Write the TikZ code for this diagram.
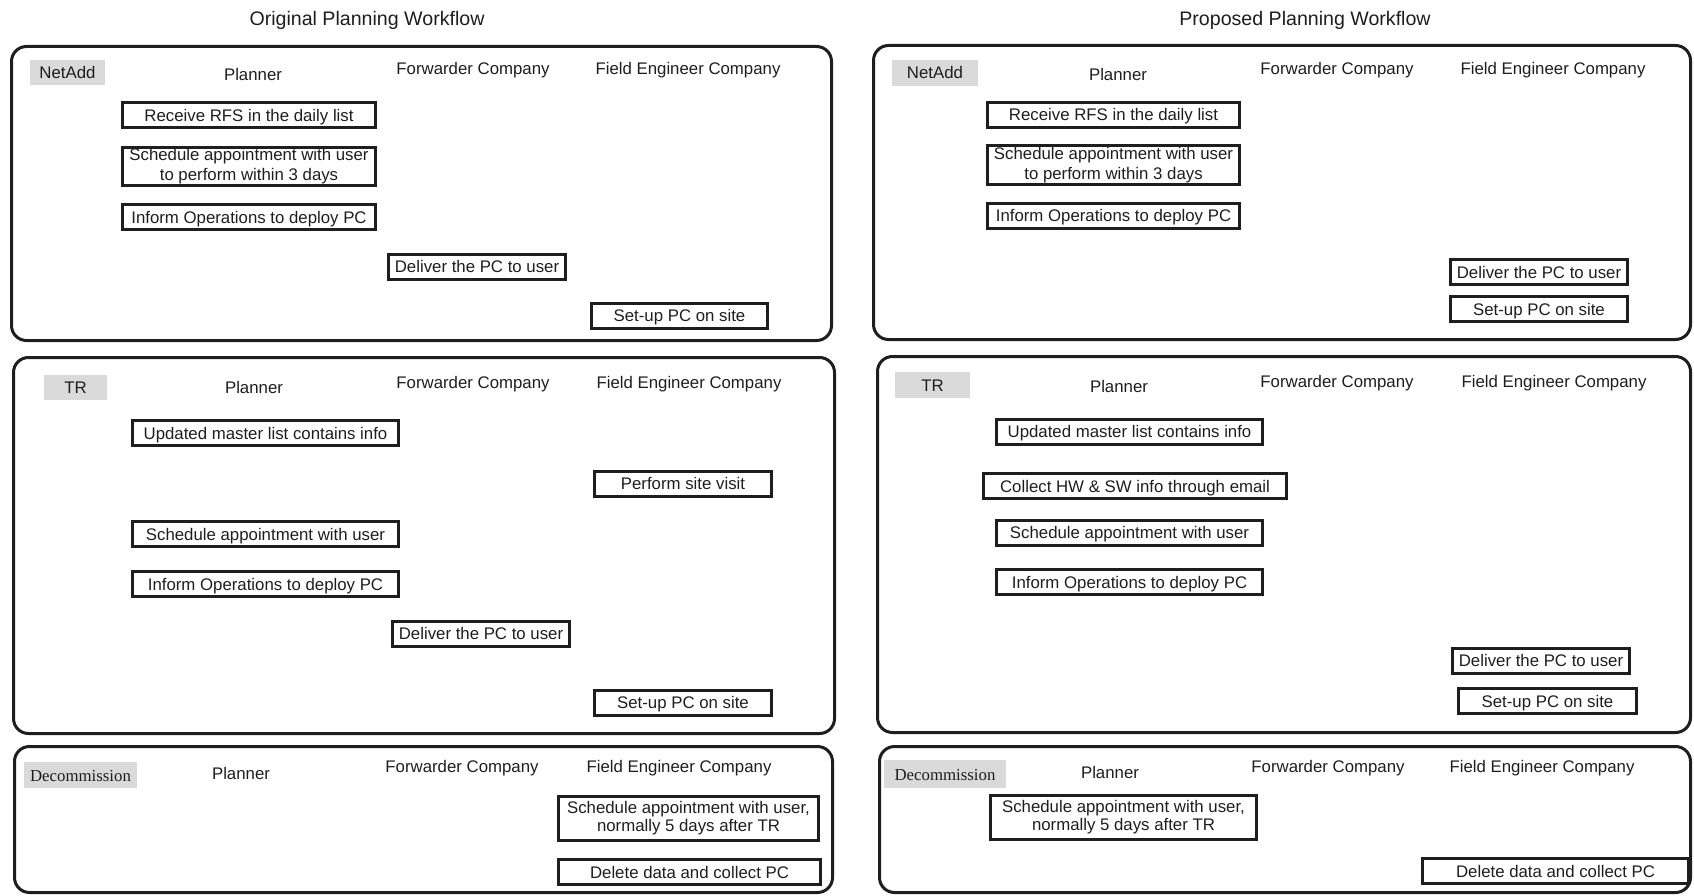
\documentclass[tikz,border=0pt]{standalone}
\usepackage{fontspec}
\setmainfont{Liberation Sans}
\newfontfamily\serifface{Liberation Serif}
\definecolor{ink}{HTML}{1E1E1E}
\definecolor{tagfill}{HTML}{DADADA}
\begin{document}
\begin{tikzpicture}[x=1pt,y=-1pt,
  every node/.style={font=\fontsize{16.8}{20}\selectfont, text=ink},
  panel/.style={draw=ink, line width=3pt, rounded corners=15pt, inner sep=0pt},
  stepbox/.style={draw=ink, line width=3pt, inner sep=0pt, minimum height=25pt,
                  text height=12pt, text depth=0pt},
  stepboxtwo/.style={draw=ink, line width=3pt, inner sep=0pt, align=center},
  lane/.style={inner sep=0pt, text height=12pt, text depth=0pt},
  tag/.style={fill=tagfill, inner sep=0pt, text height=12pt, text depth=0pt},
  title/.style={inner sep=0pt, font=\fontsize{19.6}{23}\selectfont}]
\useasboundingbox (0,0) rectangle (1694,896);

% ---------- titles ----------
\node[title] (ttlO) at (367,20) {Original Planning Workflow};
\node[title] (ttlP) at (1305,20) {Proposed Planning Workflow};

% ---------- frames ----------
\node[panel, minimum width=820, minimum height=294] (oA) at (421.5,193.5) {};
\node[panel, minimum width=821, minimum height=376] (oB) at (424,545.5) {};
\node[panel, minimum width=818, minimum height=146] (oC) at (423.5,819.5) {};
\node[panel, minimum width=817, minimum height=294] (pA) at (1282,192.5) {};
\node[panel, minimum width=813, minimum height=376] (pB) at (1284,544.5) {};
\node[panel, minimum width=811, minimum height=146] (pC) at (1285,819.5) {};

% ---------- original: NetAdd ----------
\node[tag, minimum width=75, minimum height=25] (oAtag) at (67.5,72.5) {NetAdd};
\node[lane] (oAplan) at (253,75) {Planner};
\node[lane] (oAfwd) at (473,69) {Forwarder Company};
\node[lane] (oAfe) at (688,69) {Field Engineer Company};
\node[stepbox, minimum width=253] (oA1) at (249,115.5) {Receive RFS in the daily list};
\node[stepboxtwo, minimum width=253, minimum height=38] (oA2) at (249,166.5)
  {Schedule appointment with user\\to perform within 3 days};
\node[stepbox, minimum width=253] (oA3) at (249,217) {Inform Operations to deploy PC};
\node[stepbox, minimum width=177] (oA4) at (477,266.5) {Deliver the PC to user};
\node[stepbox, minimum width=176] (oA5) at (679.5,315.5) {Set-up PC on site};

% ---------- original: TR ----------
\node[tag, minimum width=63, minimum height=25] (oBtag) at (75.5,387.5) {TR};
\node[lane] (oBplan) at (254,387) {Planner};
\node[lane] (oBfwd) at (473,382) {Forwarder Company};
\node[lane] (oBfe) at (689,382) {Field Engineer Company};
\node[stepbox, minimum width=266] (oB1) at (265.5,433) {Updated master list contains info};
\node[stepbox, minimum width=177] (oB2) at (683,483.5) {Perform site visit};
\node[stepbox, minimum width=266] (oB3) at (265.5,534) {Schedule appointment with user};
\node[stepbox, minimum width=266] (oB4) at (265.5,584) {Inform Operations to deploy PC};
\node[stepbox, minimum width=177] (oB5) at (481,633.5) {Deliver the PC to user};
\node[stepbox, minimum width=177] (oB6) at (683,702.5) {Set-up PC on site};

% ---------- original: Decommission ----------
\node[tag, minimum width=113, minimum height=26, font=\serifface\fontsize{16.8}{20}\selectfont] (oCtag) at (80.5,775) {Decommission};
\node[lane] (oCplan) at (241,773) {Planner};
\node[lane] (oCfwd) at (462,766) {Forwarder Company};
\node[lane] (oCfe) at (679,766) {Field Engineer Company};
\node[stepboxtwo, minimum width=260, minimum height=44, font=\fontsize{16.8}{18}\selectfont] (oC1) at (688.5,818.5)
  {Schedule appointment with user,\\normally 5 days after TR};
\node[stepbox, minimum width=262] (oC2) at (689.5,872) {Delete data and collect PC};

% ---------- proposed: NetAdd ----------
\node[tag, minimum width=86, minimum height=26] (pAtag) at (935,73) {NetAdd};
\node[lane] (pAplan) at (1118,75) {Planner};
\node[lane] (pAfwd) at (1337,69) {Forwarder Company};
\node[lane] (pAfe) at (1553,69) {Field Engineer Company};
\node[stepbox, minimum width=252] (pA1) at (1113.5,115) {Receive RFS in the daily list};
\node[stepboxtwo, minimum width=252, minimum height=39] (pA2) at (1113.5,165)
  {Schedule appointment with user\\to perform within 3 days};
\node[stepbox, minimum width=252] (pA3) at (1113.5,216) {Inform Operations to deploy PC};
\node[stepbox, minimum width=177] (pA4) at (1539,272) {Deliver the PC to user};
\node[stepbox, minimum width=177] (pA5) at (1539,309) {Set-up PC on site};

% ---------- proposed: TR ----------
\node[tag, minimum width=75, minimum height=26] (pBtag) at (932.5,385) {TR};
\node[lane] (pBplan) at (1119,386) {Planner};
\node[lane] (pBfwd) at (1337,381) {Forwarder Company};
\node[lane] (pBfe) at (1554,381) {Field Engineer Company};
\node[stepbox, minimum width=266] (pB1) at (1129.5,431.5) {Updated master list contains info};
\node[stepbox, minimum width=303] (pB2) at (1135,486) {Collect HW \& SW info through email};
\node[stepbox, minimum width=266] (pB3) at (1129.5,532.5) {Schedule appointment with user};
\node[stepbox, minimum width=266] (pB4) at (1129.5,582) {Inform Operations to deploy PC};
\node[stepbox, minimum width=177] (pB5) at (1541,660.5) {Deliver the PC to user};
\node[stepbox, minimum width=178] (pB6) at (1547.5,701) {Set-up PC on site};

% ---------- proposed: Decommission ----------
\node[tag, minimum width=122, minimum height=28, font=\serifface\fontsize{16.8}{20}\selectfont] (pCtag) at (945,774) {Decommission};
\node[lane] (pCplan) at (1110,772) {Planner};
\node[lane] (pCfwd) at (1328,766) {Forwarder Company};
\node[lane] (pCfe) at (1542,766) {Field Engineer Company};
\node[stepboxtwo, minimum width=266, minimum height=44, font=\fontsize{16.8}{18}\selectfont] (pC1) at (1123.5,817.5)
  {Schedule appointment with user,\\normally 5 days after TR};
\node[stepbox, minimum width=266] (pC2) at (1555.5,871) {Delete data and collect PC};
\end{tikzpicture}
\end{document}
